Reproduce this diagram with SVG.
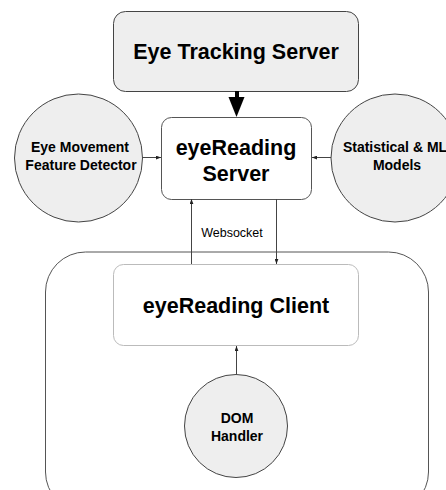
<svg xmlns="http://www.w3.org/2000/svg" width="446" height="490" viewBox="0 0 446 490">
<defs>
<style>
text{font-family:"Liberation Sans",Arial,sans-serif;fill:#000;text-anchor:middle}
.big{font-size:21.5px;font-weight:bold}
.mid{font-size:14px;font-weight:bold}
.lbl{font-size:12.5px}
.circ{fill:#eeeeee;stroke:#444;stroke-width:1}
.conn{stroke:#444;stroke-width:1;fill:none}
</style>
<marker id="ah" viewBox="0 0 8 6" refX="8" refY="3" markerWidth="5" markerHeight="4" orient="auto" markerUnits="userSpaceOnUse">
<path d="M0,0 L8,3 L0,6 Z" fill="#222"/>
</marker>
</defs>
<rect width="446" height="490" fill="#fff"/>
<g id="client-container">
<rect x="45.5" y="252" width="383" height="260" rx="40" ry="40" fill="#fff" stroke="#555" stroke-width="1"/>
</g>
<g id="eye-tracking-server">
<rect x="113.5" y="11.5" width="245" height="80" rx="12" ry="12" fill="#eeeeee" stroke="#444" stroke-width="1"/>
<text class="big" x="236" y="59">Eye Tracking Server</text>
</g>
<g id="eyereading-server">
<rect x="161.5" y="117.5" width="150" height="82" rx="10" ry="10" fill="#fff" stroke="#555" stroke-width="1"/>
<text class="big" x="236" y="155">eyeReading</text>
<text class="big" x="236" y="181">Server</text>
</g>
<g id="eye-movement-detector">
<circle class="circ" cx="78.5" cy="158" r="64"/>
<text class="mid" x="80" y="152">Eye Movement</text>
<text class="mid" x="81" y="170">Feature Detector</text>
</g>
<g id="statistical-ml-models">
<circle class="circ" cx="395" cy="158" r="64"/>
<text class="mid" x="395" y="152">Statistical &amp; ML</text>
<text class="mid" x="397" y="170">Models</text>
</g>
<g id="eyereading-client">
<rect x="113.5" y="264.5" width="245" height="81" rx="10" ry="10" fill="#fff" stroke="#bbb" stroke-width="1"/>
<text class="big" x="236" y="313">eyeReading Client</text>
</g>
<g id="dom-handler">
<circle class="circ" cx="236" cy="426" r="51.5"/>
<text class="mid" x="237" y="423">DOM</text>
<text class="mid" x="237" y="441">Handler</text>
</g>
<g id="connectors">
<line x1="237" y1="91" x2="237" y2="100" stroke="#000" stroke-width="4"/>
<path d="M228.5,97 L244.5,97 L236.5,117 Z" fill="#000"/>
<line class="conn" x1="142" y1="157.5" x2="161" y2="157.5" marker-end="url(#ah)"/>
<line class="conn" x1="331" y1="157.5" x2="312" y2="157.5" marker-end="url(#ah)"/>
<line class="conn" x1="191.5" y1="264" x2="191.5" y2="199" marker-end="url(#ah)"/>
<line class="conn" x1="276.5" y1="199" x2="276.5" y2="264" marker-end="url(#ah)"/>
<line class="conn" x1="236.5" y1="374" x2="236.5" y2="346" marker-end="url(#ah)"/>
<text class="lbl" x="232" y="237">Websocket</text>
</g>
</svg>
